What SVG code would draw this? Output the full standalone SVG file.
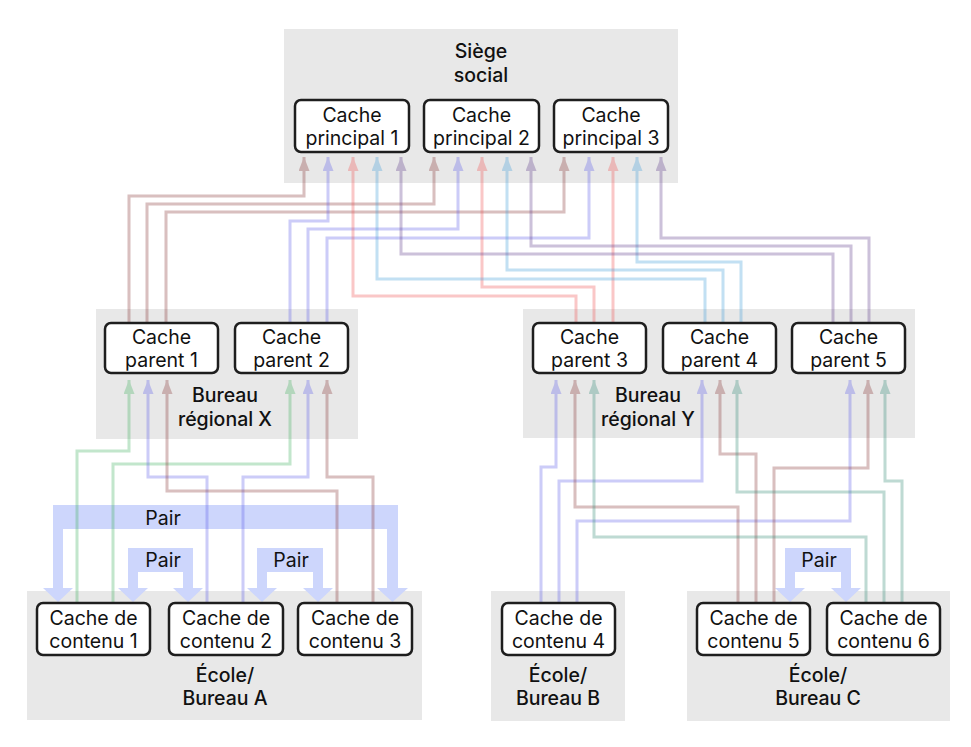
<svg xmlns="http://www.w3.org/2000/svg" width="971" height="747" viewBox="0 0 971 747">
<style>
.region{fill:#e8e8e8}
.box{fill:#ffffff;stroke:#1e1e1e;stroke-width:2.5}
.t{font-family:Inter,"Noto Sans","Liberation Sans",sans-serif;font-size:19.5px;fill:#111;text-anchor:middle}
.rl{font-weight:500}
.c{fill:none;stroke-width:3;opacity:0.32}
.pair{fill:#cdd6fc}
.br{stroke:#8a3a3a}
.bl{stroke:#6262eb}
.rd{stroke:#f15454}
.lb{stroke:#45a1da}
.pu{stroke:#62408d}
.gr{stroke:#45b262}
.te{stroke:#378d79}
</style>
<defs>
<marker id="m-br" viewBox="0 0 14 11" markerWidth="14" markerHeight="11" refX="14" refY="5.5" orient="auto" markerUnits="userSpaceOnUse"><path d="M0,0 L14,5.5 L0,11 Z" fill="#8a3a3a"/></marker>
<marker id="m-bl" viewBox="0 0 14 11" markerWidth="14" markerHeight="11" refX="14" refY="5.5" orient="auto" markerUnits="userSpaceOnUse"><path d="M0,0 L14,5.5 L0,11 Z" fill="#6262eb"/></marker>
<marker id="m-rd" viewBox="0 0 14 11" markerWidth="14" markerHeight="11" refX="14" refY="5.5" orient="auto" markerUnits="userSpaceOnUse"><path d="M0,0 L14,5.5 L0,11 Z" fill="#f15454"/></marker>
<marker id="m-lb" viewBox="0 0 14 11" markerWidth="14" markerHeight="11" refX="14" refY="5.5" orient="auto" markerUnits="userSpaceOnUse"><path d="M0,0 L14,5.5 L0,11 Z" fill="#45a1da"/></marker>
<marker id="m-pu" viewBox="0 0 14 11" markerWidth="14" markerHeight="11" refX="14" refY="5.5" orient="auto" markerUnits="userSpaceOnUse"><path d="M0,0 L14,5.5 L0,11 Z" fill="#62408d"/></marker>
<marker id="m-gr" viewBox="0 0 14 11" markerWidth="14" markerHeight="11" refX="14" refY="5.5" orient="auto" markerUnits="userSpaceOnUse"><path d="M0,0 L14,5.5 L0,11 Z" fill="#45b262"/></marker>
<marker id="m-te" viewBox="0 0 14 11" markerWidth="14" markerHeight="11" refX="14" refY="5.5" orient="auto" markerUnits="userSpaceOnUse"><path d="M0,0 L14,5.5 L0,11 Z" fill="#378d79"/></marker>
</defs>

<g id="siege-social">
<rect class="region" x="284" y="29" width="394" height="154"/>
<text class="t rl" x="481" y="58">Siège</text>
<text class="t rl" x="481" y="82">social</text>
</g>
<g id="bureau-regional-x">
<rect class="region" x="96" y="309" width="262" height="130"/>
<text class="t rl" x="225" y="402">Bureau</text>
<text class="t rl" x="225" y="426">régional X</text>
</g>
<g id="bureau-regional-y">
<rect class="region" x="523" y="309" width="392" height="129"/>
<text class="t rl" x="648" y="402">Bureau</text>
<text class="t rl" x="648" y="426">régional Y</text>
</g>
<g id="ecole-bureau-a">
<rect class="region" x="27" y="591" width="395" height="129"/>
<text class="t rl" x="225" y="682">École/</text>
<text class="t rl" x="225" y="705">Bureau A</text>
</g>
<g id="ecole-bureau-b">
<rect class="region" x="491" y="591" width="134" height="130"/>
<text class="t rl" x="558" y="682">École/</text>
<text class="t rl" x="558" y="705">Bureau B</text>
</g>
<g id="ecole-bureau-c">
<rect class="region" x="687" y="591" width="263" height="130"/>
<text class="t rl" x="818" y="682">École/</text>
<text class="t rl" x="818" y="705">Bureau C</text>
</g>

<g id="connectors">
<g id="pairs">
<path class="pair" d="M43,588 L58,602 L73,588 L63,588 L63,529 L387,529 L387,588 L377,588 L392.5,602 L408,588 L398,588 L398,505 L53,505 L53,588 Z"/>
<text class="t" x="163" y="525">Pair</text>
<path class="pair" d="M118,588 L133,602 L148,588 L138,588 L138,572 L183,572 L183,588 L173,588 L188,602 L203,588 L193,588 L193,548 L128,548 L128,588 Z"/>
<text class="t" x="163" y="567">Pair</text>
<path class="pair" d="M247,588 L262,602 L277,588 L267,588 L267,572 L313,572 L313,588 L303,588 L318,602 L333,588 L323,588 L323,548 L257,548 L257,588 Z"/>
<text class="t" x="291" y="567">Pair</text>
<path class="pair" d="M775,588 L790,602 L805,588 L795,588 L795,572 L841,572 L841,588 L831,588 L846,602 L861,588 L851,588 L851,548 L785,548 L785,588 Z"/>
<text class="t" x="819" y="567">Pair</text>
</g>
<g id="parent-to-principal">
<path class="c br" marker-end="url(#m-br)" d="M129,323 V196 H304 V157"/>
<path class="c br" marker-end="url(#m-br)" d="M147,323 V204 H434 V157"/>
<path class="c br" marker-end="url(#m-br)" d="M166,323 V212 H564 V157"/>
<path class="c bl" marker-end="url(#m-bl)" d="M290,323 V221 H328 V157"/>
<path class="c bl" marker-end="url(#m-bl)" d="M308,323 V229 H458 V157"/>
<path class="c bl" marker-end="url(#m-bl)" d="M327,323 V238 H589 V157"/>
<path class="c rd" marker-end="url(#m-rd)" d="M576,323 V296 H353 V157"/>
<path class="c rd" marker-end="url(#m-rd)" d="M594,323 V287 H482 V157"/>
<path class="c rd" marker-end="url(#m-rd)" d="M613,323 V157"/>
<path class="c lb" marker-end="url(#m-lb)" d="M705,323 V279 H377 V157"/>
<path class="c lb" marker-end="url(#m-lb)" d="M723,323 V270 H507 V157"/>
<path class="c lb" marker-end="url(#m-lb)" d="M741,323 V262 H637 V157"/>
<path class="c pu" marker-end="url(#m-pu)" d="M833,323 V254 H401 V157"/>
<path class="c pu" marker-end="url(#m-pu)" d="M851,323 V246 H531 V157"/>
<path class="c pu" marker-end="url(#m-pu)" d="M869,323 V238 H661 V157"/>
</g>
<g id="content-to-parent">
<path class="c gr" marker-end="url(#m-gr)" d="M77,603 V451 H129 V380"/>
<path class="c gr" marker-end="url(#m-gr)" d="M113,603 V464 H290 V380"/>
<path class="c bl" marker-end="url(#m-bl)" d="M207,603 V477 H148 V380"/>
<path class="c bl" marker-end="url(#m-bl)" d="M243,603 V477 H308 V380"/>
<path class="c br" marker-end="url(#m-br)" d="M337,603 V491 H167 V380"/>
<path class="c br" marker-end="url(#m-br)" d="M373,603 V477 H327 V380"/>
<path class="c bl" marker-end="url(#m-bl)" d="M541,603 V467 H556 V380"/>
<path class="c bl" marker-end="url(#m-bl)" d="M559,603 V481 H702 V380"/>
<path class="c bl" marker-end="url(#m-bl)" d="M577,603 V521 H850 V380"/>
<path class="c br" marker-end="url(#m-br)" d="M738,603 V507 H575 V380"/>
<path class="c br" marker-end="url(#m-br)" d="M756,603 V454 H720 V380"/>
<path class="c br" marker-end="url(#m-br)" d="M774,603 V468 H868 V380"/>
<path class="c te" marker-end="url(#m-te)" d="M866,603 V537 H594 V380"/>
<path class="c te" marker-end="url(#m-te)" d="M884,603 V492 H737 V380"/>
<path class="c te" marker-end="url(#m-te)" d="M902,603 V481 H885 V380"/>
</g>
</g>

<g id="cache-principal-1">
<rect class="box" x="295" y="100" width="114" height="52" rx="6"/>
<text class="t" x="352" y="121.5">Cache</text>
<text class="t" x="352" y="145">principal 1</text>
</g>
<g id="cache-principal-2">
<rect class="box" x="424" y="100" width="115" height="52" rx="6"/>
<text class="t" x="481.5" y="121.5">Cache</text>
<text class="t" x="481.5" y="145">principal 2</text>
</g>
<g id="cache-principal-3">
<rect class="box" x="554" y="100" width="114" height="52" rx="6"/>
<text class="t" x="611" y="121.5">Cache</text>
<text class="t" x="611" y="145">principal 3</text>
</g>
<g id="cache-parent-1">
<rect class="box" x="105" y="323" width="113" height="50" rx="6"/>
<text class="t" x="161.5" y="344">Cache</text>
<text class="t" x="161.5" y="367">parent 1</text>
</g>
<g id="cache-parent-2">
<rect class="box" x="235" y="323" width="113" height="50" rx="6"/>
<text class="t" x="291.5" y="344">Cache</text>
<text class="t" x="291.5" y="367">parent 2</text>
</g>
<g id="cache-parent-3">
<rect class="box" x="533" y="323" width="113" height="50" rx="6"/>
<text class="t" x="589.5" y="344">Cache</text>
<text class="t" x="589.5" y="367">parent 3</text>
</g>
<g id="cache-parent-4">
<rect class="box" x="663" y="323" width="113" height="50" rx="6"/>
<text class="t" x="719.5" y="344">Cache</text>
<text class="t" x="719.5" y="367">parent 4</text>
</g>
<g id="cache-parent-5">
<rect class="box" x="792" y="323" width="113" height="50" rx="6"/>
<text class="t" x="848.5" y="344">Cache</text>
<text class="t" x="848.5" y="367">parent 5</text>
</g>
<g id="cache-contenu-1">
<rect class="box" x="37" y="603" width="113" height="52" rx="6"/>
<text class="t" x="93.5" y="625">Cache de</text>
<text class="t" x="93.5" y="648">contenu 1</text>
</g>
<g id="cache-contenu-2">
<rect class="box" x="169" y="603" width="114" height="52" rx="6"/>
<text class="t" x="226" y="625">Cache de</text>
<text class="t" x="226" y="648">contenu 2</text>
</g>
<g id="cache-contenu-3">
<rect class="box" x="298" y="603" width="114" height="52" rx="6"/>
<text class="t" x="355" y="625">Cache de</text>
<text class="t" x="355" y="648">contenu 3</text>
</g>
<g id="cache-contenu-4">
<rect class="box" x="502" y="603" width="113" height="52" rx="6"/>
<text class="t" x="558.5" y="625">Cache de</text>
<text class="t" x="558.5" y="648">contenu 4</text>
</g>
<g id="cache-contenu-5">
<rect class="box" x="697" y="603" width="113" height="52" rx="6"/>
<text class="t" x="753.5" y="625">Cache de</text>
<text class="t" x="753.5" y="648">contenu 5</text>
</g>
<g id="cache-contenu-6">
<rect class="box" x="827" y="603" width="113" height="52" rx="6"/>
<text class="t" x="883.5" y="625">Cache de</text>
<text class="t" x="883.5" y="648">contenu 6</text>
</g>
</svg>
